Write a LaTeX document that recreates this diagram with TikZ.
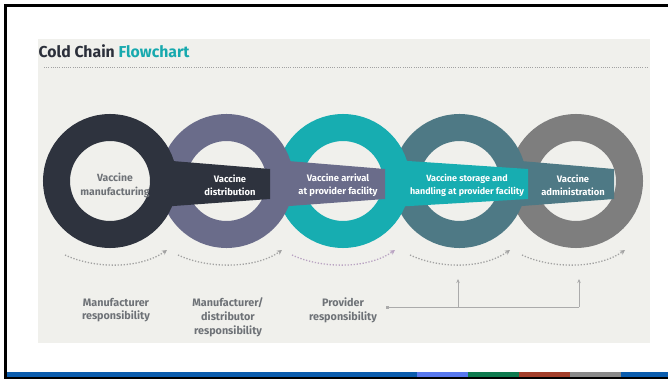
\documentclass[tikz,border=0pt]{standalone}
\usepackage{fontspec}
\setmainfont{Fira Sans}
\usetikzlibrary{arrows.meta}
\definecolor{panel}{HTML}{F0F0EC}
\definecolor{titledark}{HTML}{2B2F3A}
\definecolor{titleteal}{HTML}{17A9AE}
\definecolor{ringA}{HTML}{2E333E}
\definecolor{ringB}{HTML}{6A6C8A}
\definecolor{ringC}{HTML}{17ADB1}
\definecolor{ringD}{HTML}{4E7985}
\definecolor{ringE}{HTML}{7E7E7E}
\definecolor{labgray}{HTML}{6E7277}
\definecolor{dotgray}{HTML}{A2A2A2}
\definecolor{dotpink}{HTML}{B9A3C2}
\definecolor{linegray}{HTML}{ABABAB}
\definecolor{stripeblue}{HTML}{0B5DAE}
\definecolor{stripelblue}{HTML}{5878EE}
\definecolor{stripegreen}{HTML}{0E7A4E}
\definecolor{stripebrown}{HTML}{A23E2A}
\definecolor{stripegray}{HTML}{8A8A8A}
\tikzset{
  ring/.style={circle, draw=#1, line width=27pt, minimum size=107pt, inner sep=0pt},
  bandlabel/.style={text=white, align=center, font=\bfseries\fontsize{9.4}{13}\selectfont, inner sep=0pt},
  resp/.style={text=labgray, align=center, font=\bfseries\fontsize{10.8}{13.8}\selectfont, inner sep=0pt},
  arcline/.style={line width=1.3pt, dash pattern=on 1.3pt off 1.7pt, -{Stealth[length=5pt,width=5pt]}},
  upline/.style={draw=linegray, line width=0.8pt, -{Stealth[length=4pt,width=3.5pt]}}
}
\begin{document}
\begin{tikzpicture}[x=1pt,y=-1pt]
\useasboundingbox (0,0) rectangle (668,379);
\fill[white] (0,0) rectangle (668,379);
% frame
\fill[black] (4,4) rectangle (668,7);
\fill[black] (4,4) rectangle (7,379);
\fill[stripeblue] (7,372) rectangle (417,377);
\fill[stripelblue] (417,372) rectangle (468,377);
\fill[stripegreen] (468,372) rectangle (519,377);
\fill[stripebrown] (519,372) rectangle (570,377);
\fill[stripegray] (570,372) rectangle (621,377);
\fill[stripeblue] (621,372) rectangle (668,377);
\fill[black] (4,377) rectangle (668,379);
% panel
\fill[panel] (38,39) rectangle (650,343);
\node[anchor=base west, inner sep=0pt, font=\bfseries\fontsize{15.8}{16}\selectfont] (title) at (38.5,58)
  {\textcolor{titledark}{Cold Chain} \textcolor{titleteal}{Flowchart}};
\coordinate (rulea) at (44,68);
\coordinate (ruleb) at (647,68);
\draw[dotgray, line width=1pt, dash pattern=on 1pt off 1.2pt] (rulea) -- (ruleb);
% rings, right to left so that left rings lie on top
\node[ring=ringE] (r5) at (576,181) {};
\fill[ringD] (509,160) -- (614,169) -- (614,199) -- (509,207) -- cycle;
\node[ring=ringD] (r4) at (459.5,181) {};
\fill[ringC] (393,160) -- (528,169) -- (528,199) -- (393,207) -- cycle;
\node[ring=ringC] (r3) at (343,181) {};
\fill[ringB] (276,160) -- (385,169) -- (385,199) -- (276,207) -- cycle;
\node[ring=ringB] (r2) at (226.5,181) {};
\fill[ringA] (160,160) -- (270,169) -- (270,199) -- (160,207) -- cycle;
\node[ring=ringA] (r1) at (110,181) {};
% labels
\node[bandlabel, text=labgray, font=\bfseries\fontsize{10.4}{14}\selectfont] (l1) at (115,185) {Vaccine\\manufacturing};
\node[bandlabel] (l2) at (230,185) {Vaccine\\distribution};
\node[bandlabel] (l3) at (338,185) {Vaccine arrival\\at provider facility};
\node[bandlabel, font=\bfseries\fontsize{9}{13}\selectfont] (l4) at (467,185) {Vaccine storage and\\handling at provider facility};
\node[bandlabel] (l5) at (573,185) {Vaccine\\administration};
% dotted arcs
\coordinate (a1s) at (65,255);   \coordinate (a1e) at (167,250);
\coordinate (a2s) at (178,255);  \coordinate (a2e) at (282,250);
\coordinate (a3s) at (292,255);  \coordinate (a3e) at (395,250);
\coordinate (a4s) at (410,255);  \coordinate (a4e) at (510,250);
\coordinate (a5s) at (522,255);  \coordinate (a5e) at (625,250);
\draw[arcline, dotgray] (a1s) .. controls (95,269) and (140,269) .. (a1e);
\draw[arcline, dotgray] (a2s) .. controls (208,269) and (255,269) .. (a2e);
\draw[arcline, dotpink] (a3s) .. controls (322,269) and (368,269) .. (a3e);
\draw[arcline, dotgray] (a4s) .. controls (440,269) and (483,269) .. (a4e);
\draw[arcline, dotgray] (a5s) .. controls (552,269) and (598,269) .. (a5e);
% responsibilities
\node[resp] (m1) at (116,310) {Manufacturer\\responsibility};
\node[resp] (m2) at (228,317) {Manufacturer/\\distributor\\responsibility};
\node[resp] (m3) at (343,310) {Provider\\responsibility};
\node[fill=linegray, minimum size=3pt, inner sep=0pt] (pdot) at (387,307) {};
\coordinate (j4) at (458,307);
\coordinate (j5) at (579,307);
\coordinate (t4) at (458,279);
\coordinate (t5) at (579,279);
\draw[linegray, line width=0.8pt] (pdot) -- (j5);
\draw[upline] (j4) -- (t4);
\draw[upline] (j5) -- (t5);
\end{tikzpicture}
\end{document}
